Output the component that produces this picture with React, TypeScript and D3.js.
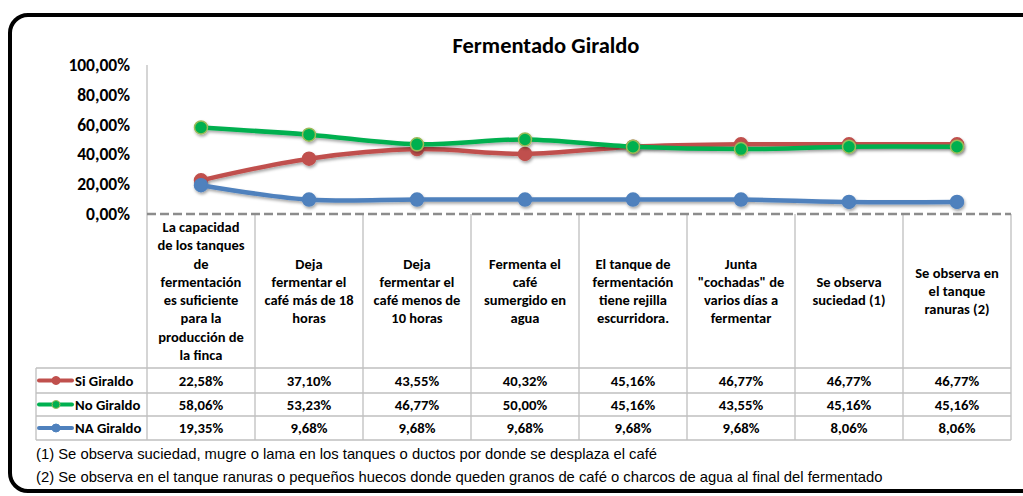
import React from "react";
import * as d3 from "d3";

const categories: string[][] = [
  ["La capacidad", "de los tanques", "de", "fermentación", "es suficiente", "para la", "producción de", "la finca"],
  ["Deja", "fermentar el", "café más de 18", "horas"],
  ["Deja", "fermentar el", "café menos de", "10 horas"],
  ["Fermenta el", "café", "sumergido en", "agua"],
  ["El tanque de", "fermentación", "tiene rejilla", "escurridora."],
  ["Junta", "\"cochadas\" de", "varios días a", "fermentar"],
  ["Se observa", "suciedad (1)"],
  ["Se observa en", "el tanque", "ranuras (2)"],
];
const siGiraldo = [22.58, 37.1, 43.55, 40.32, 45.16, 46.77, 46.77, 46.77];
const noGiraldo = [58.06, 53.23, 46.77, 50.0, 45.16, 43.55, 45.16, 45.16];
const naGiraldo = [19.35, 9.68, 9.68, 9.68, 9.68, 9.68, 8.06, 8.06];
const yTicks = [0, 20, 40, 60, 80, 100];
const title = "Fermentado Giraldo";
const footnotes = [
  "(1) Se observa suciedad, mugre o lama en los tanques o ductos por donde se desplaza el café",
  "(2) Se observa en el tanque ranuras o pequeños huecos donde queden granos de café o charcos de agua al final del fermentado",
];

const series = [
  { name: "Si Giraldo", values: siGiraldo, color: "#C0504D", stroke: "#C0504D" },
  { name: "No Giraldo", values: noGiraldo, color: "#00B050", stroke: "#9BBB59" },
  { name: "NA Giraldo", values: naGiraldo, color: "#4F81BD", stroke: "#4F81BD" },
];

const fmt = (v: number) => v.toFixed(2).replace(".", ",") + "%";

export default function App() {
  const W = 1023, H = 496;
  const left = 147, right = 1011, top = 65, bottom = 214;
  const x = d3.scaleBand<number>().domain(d3.range(categories.length)).range([left, right]);
  const y = d3.scaleLinear().domain([0, 100]).range([bottom, top]);
  const line = d3.line<number>()
    .x((_, i) => (x(i) as number) + x.bandwidth() / 2)
    .y((d) => y(d))
    .curve(d3.curveCatmullRom.alpha(0.5));

  const headerBottom = 368;
  const rowYs = [368, 393, 416, 440];
  const legendLeft = 36;
  const font = "Calibri, Carlito, 'Liberation Sans', Arial, sans-serif";
  const gridColor = "#BFBFBF";
  const lh = 18.3;

  return (
    <svg width={W} height={H} style={{ position: "absolute", left: 0, top: 0, background: "#fff" }} fontFamily={font}>
      <defs>
        <filter id="sh" x="-50%" y="-50%" width="200%" height="200%">
          <feDropShadow dx="1" dy="2" stdDeviation="1.5" floodColor="#000" floodOpacity="0.35" />
        </filter>
      </defs>
      <rect x={10} y={15} width={1040} height={476} rx={18} fill="#fff" stroke="#000" strokeWidth={4} />
      <text x={546} y={53} textAnchor="middle" fontSize={22.5} fontWeight="bold" fill="#000">{title}</text>

      {yTicks.map((t) => (
        <text key={t} x={130} y={y(t) + 6} textAnchor="end" fontSize={17.5} fontWeight="bold" fill="#000">
          {fmt(t)}
        </text>
      ))}
      <line x1={left} x2={left} y1={top} y2={bottom} stroke={gridColor} strokeWidth={1.3} />

      {/* table grid */}
      {d3.range(categories.length + 1).map((i) => {
        const xx = i === categories.length ? right : (x(i) as number);
        return <line key={i} x1={xx} x2={xx} y1={bottom} y2={rowYs[3]} stroke={gridColor} strokeWidth={1.3} />;
      })}
      <line x1={legendLeft} x2={legendLeft} y1={headerBottom} y2={rowYs[3]} stroke={gridColor} strokeWidth={1.3} />
      {rowYs.map((ry, i) => (
        <line key={i} x1={legendLeft} x2={right} y1={ry} y2={ry} stroke={gridColor} strokeWidth={1.3} />
      ))}

      {categories.map((lines, i) => {
        const cx = (x(i) as number) + x.bandwidth() / 2;
        const mid = (bottom + headerBottom) / 2;
        const y0 = mid - ((lines.length - 1) * lh) / 2;
        return (
          <text key={i} x={cx} textAnchor="middle" fontSize={14.5} fontWeight="bold" fill="#000">
            {lines.map((l, j) => (
              <tspan key={j} x={cx} y={y0 + j * lh + 5}>{l}</tspan>
            ))}
          </text>
        );
      })}

      {series.map((s, si) => {
        const cy = (rowYs[si] + rowYs[si + 1]) / 2;
        return (
          <g key={s.name}>
            <line x1={39} x2={72} y1={cy} y2={cy} stroke={s.color} strokeWidth={4} strokeLinecap="round" />
            <circle cx={56} cy={cy} r={4} fill={s.color} stroke={s.stroke} strokeWidth={1} />
            <text x={75} y={cy + 5} fontSize={14.7} fontWeight="bold" fill="#000">{s.name}</text>
            {s.values.map((v, i) => (
              <text key={i} x={(x(i) as number) + x.bandwidth() / 2} y={cy + 5} textAnchor="middle" fontSize={14.7} fontWeight="bold" fill="#000">
                {fmt(v)}
              </text>
            ))}
          </g>
        );
      })}

      <line x1={left} x2={right} y1={bottom} y2={bottom} stroke="#8C8C8C" strokeWidth={2.5} strokeDasharray="9,4" />

      {series.map((s) => (
        <g key={s.name} filter="url(#sh)">
          <path d={line(s.values) as string} fill="none" stroke={s.color} strokeWidth={4.5} strokeLinecap="round" />
          {s.values.map((v, i) => (
            <circle key={i} cx={(x(i) as number) + x.bandwidth() / 2} cy={y(v)} r={6.5} fill={s.color} stroke={s.stroke} strokeWidth={1.5} />
          ))}
        </g>
      ))}

      {footnotes.map((f, i) => (
        <text key={i} x={36} y={459 + i * 23} fontSize={14.8} fill="#000" fontFamily="'Liberation Sans Narrow', 'Arial Narrow', sans-serif">
          {f}
        </text>
      ))}
    </svg>
  );
}
